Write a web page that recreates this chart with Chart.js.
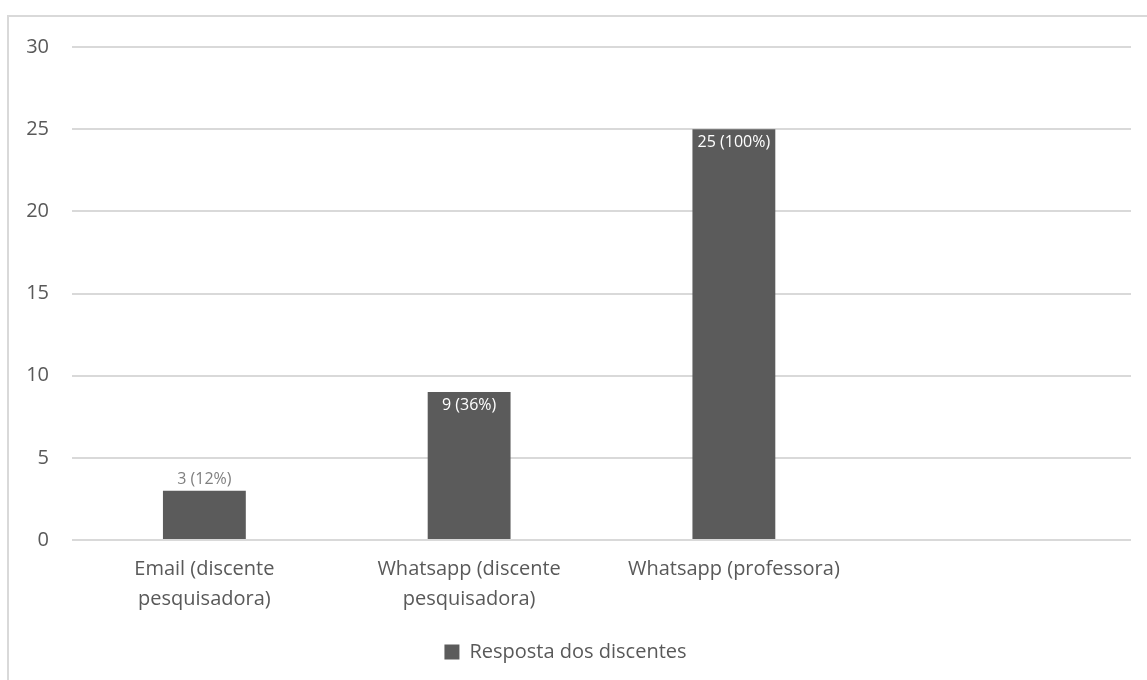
<!DOCTYPE html>
<html>
<head>
<meta charset="utf-8">
<script src="https://cdn.jsdelivr.net/npm/chart.js@4"></script>
<style>
  html, body { margin: 0; padding: 0; background: #fff; overflow: hidden; }
  #frame { position: absolute; left: 7px; top: 15px; width: 1300px; height: 800px; border: 2px solid #d9d9d9; box-sizing: border-box; }
  #wrap { position: absolute; left: 0; top: 0; width: 1147px; height: 680px; }
</style>
</head>
<body>
<div id="frame"></div>
<div id="wrap"><canvas id="barChart"></canvas></div>
<script>
// Categories (the 4th slot is empty in the original)
const categories = [
    ['Email (discente', 'pesquisadora)'],
    ['Whatsapp (discente', 'pesquisadora)'],
    'Whatsapp (professora)',
    ''
];
const respostas = [3, 9, 25, null];
const valueLabels = ['3 (12%)', '9 (36%)', '25 (100%)', ''];
const yTicks = [0, 5, 10, 15, 20, 25, 30];

const fontFamily = '"Open Sans", sans-serif';
const textColor = '#595959';

// Data labels: outside (gray) for short bars, inside top (white) for tall bars
const barLabels = {
    id: 'barLabels',
    afterDatasetsDraw(chart) {
        const ctx = chart.ctx;
        const meta = chart.getDatasetMeta(0);
        ctx.save();
        ctx.font = '16px ' + fontFamily;
        ctx.textAlign = 'center';
        meta.data.forEach((bar, i) => {
            if (respostas[i] == null) return;
            const h = bar.base - bar.y;
            if (h < 60) {
                ctx.fillStyle = '#7f7f7f';
                ctx.textBaseline = 'bottom';
                ctx.fillText(valueLabels[i], bar.x, bar.y - 3);
            } else {
                ctx.fillStyle = '#ffffff';
                ctx.textBaseline = 'top';
                ctx.fillText(valueLabels[i], bar.x, bar.y + 5);
            }
        });
        ctx.restore();
    }
};

function createBarChart() {
    const ctx = document.getElementById('barChart').getContext('2d');
    new Chart(ctx, {
        type: 'bar',
        data: {
            labels: categories,
            datasets: [{
                label: 'Resposta dos discentes',
                data: respostas,
                backgroundColor: '#5b5b5b',
                borderWidth: 0,
                barPercentage: 0.313,
                categoryPercentage: 1
            }]
        },
        options: {
            responsive: true,
            maintainAspectRatio: false,
            animation: false,
            layout: { padding: { top: 47, right: 16, left: 0, bottom: 8 } },
            plugins: {
                legend: {
                    position: 'bottom',
                    labels: {
                        color: textColor,
                        font: { family: fontFamily, size: 20 },
                        boxWidth: 15,
                        boxHeight: 15,
                        padding: 14
                    }
                },
                tooltip: { enabled: false }
            },
            scales: {
                x: {
                    grid: { display: false, drawTicks: false },
                    border: { display: false },
                    ticks: {
                        color: textColor,
                        font: { family: fontFamily, size: 20, lineHeight: 1.5 },
                        padding: 14,
                        maxRotation: 0,
                        autoSkip: false
                    }
                },
                y: {
                    min: 0,
                    max: 30,
                    afterFit(scale) { scale.width = 72; },
                    afterBuildTicks(scale) { scale.ticks = yTicks.map(v => ({ value: v })); },
                    grid: { color: '#d9d9d9', lineWidth: 2, drawTicks: false },
                    border: { display: false },
                    ticks: {
                        color: textColor,
                        font: { family: fontFamily, size: 20 },
                        padding: 23
                    }
                }
            }
        },
        plugins: [barLabels]
    });
}

window.addEventListener('load', createBarChart);
</script>
</body>
</html>
